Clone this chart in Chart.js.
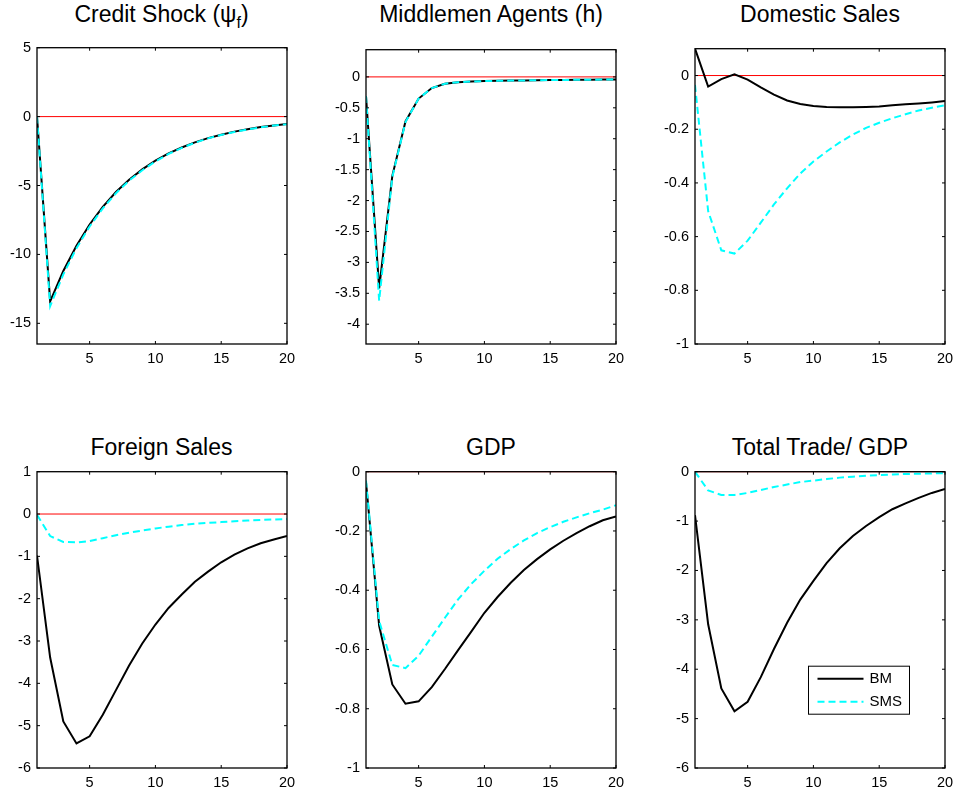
<!DOCTYPE html>
<html>
<head>
<meta charset="utf-8">
<script src="https://cdn.jsdelivr.net/npm/chart.js@4.4.1/dist/chart.umd.min.js"></script>
<style>
body { margin: 0; background: #fff; width: 956px; height: 791px; position: relative; overflow: hidden; font-family: "Liberation Sans", Arial, sans-serif; }
canvas { position: absolute; }
.ttl { position: absolute; font-size: 23px; line-height: 23px; text-align: center; white-space: nowrap; color: #000; }
.ttl sub { font-size: 16px; vertical-align: -6px; line-height: 0; }
</style>
</head>
<body>
<script>
// periods on the x axis
var periods = [1, 2, 3, 4, 5, 6, 7, 8, 9, 10, 11, 12, 13, 14, 15, 16, 17, 18, 19, 20];
var xTicks = [5, 10, 15, 20];
var seriesNames = ["BM", "SMS"];

// Credit Shock (psi_f)
var creditBM  = [0, -13.4, -11.2, -9.37, -7.83, -6.55, -5.47, -4.58, -3.83, -3.2, -2.67, -2.24, -1.87, -1.56, -1.31, -1.09, -0.91, -0.76, -0.64, -0.53];
var creditSMS = [0, -13.75, -11.45, -9.55, -7.97, -6.66, -5.56, -4.65, -3.89, -3.25, -2.71, -2.27, -1.9, -1.58, -1.33, -1.11, -0.93, -0.78, -0.65, -0.55];
var creditTicks = [5, 0, -5, -10, -15];

// Middlemen Agents (h)
var middleBM  = [-0.31, -3.42, -1.6, -0.72, -0.35, -0.18, -0.11, -0.085, -0.075, -0.068, -0.064, -0.06, -0.057, -0.054, -0.051, -0.049, -0.047, -0.045, -0.043, -0.041];
var middleSMS = [-0.31, -3.62, -1.62, -0.73, -0.35, -0.18, -0.11, -0.085, -0.075, -0.068, -0.064, -0.06, -0.057, -0.054, -0.051, -0.049, -0.047, -0.045, -0.043, -0.041];
var middleTicks = [0, -0.5, -1, -1.5, -2, -2.5, -3, -3.5, -4];

// Domestic Sales
var domBM  = [0.1, -0.041, -0.013, 0.005, -0.015, -0.044, -0.071, -0.093, -0.106, -0.113, -0.117, -0.118, -0.118, -0.117, -0.115, -0.111, -0.107, -0.104, -0.1, -0.095];
var domSMS = [-0.035, -0.505, -0.651, -0.663, -0.615, -0.548, -0.48, -0.42, -0.365, -0.32, -0.283, -0.249, -0.22, -0.195, -0.176, -0.159, -0.144, -0.13, -0.12, -0.111];
var domTicks = [0, -0.2, -0.4, -0.6, -0.8, -1];

// Foreign Sales
var forBM  = [-0.98, -3.39, -4.9, -5.42, -5.25, -4.74, -4.16, -3.58, -3.06, -2.61, -2.22, -1.9, -1.6, -1.36, -1.14, -0.96, -0.81, -0.69, -0.6, -0.52];
var forSMS = [-0.02, -0.52, -0.66, -0.67, -0.64, -0.57, -0.5, -0.44, -0.39, -0.34, -0.3, -0.26, -0.23, -0.21, -0.19, -0.17, -0.155, -0.14, -0.13, -0.12];
var forTicks = [1, 0, -1, -2, -3, -4, -5, -6];

// GDP
var gdpBM  = [-0.035, -0.52, -0.718, -0.783, -0.775, -0.727, -0.666, -0.602, -0.54, -0.476, -0.423, -0.375, -0.332, -0.295, -0.262, -0.233, -0.207, -0.184, -0.164, -0.151];
var gdpSMS = [-0.03, -0.504, -0.652, -0.663, -0.621, -0.557, -0.493, -0.431, -0.379, -0.334, -0.294, -0.261, -0.232, -0.207, -0.187, -0.169, -0.154, -0.14, -0.128, -0.113];
var gdpTicks = [0, -0.2, -0.4, -0.6, -0.8, -1];

// Total Trade/ GDP
var tradeBM  = [-0.88, -3.09, -4.39, -4.85, -4.66, -4.16, -3.59, -3.06, -2.59, -2.21, -1.85, -1.55, -1.3, -1.1, -0.92, -0.76, -0.64, -0.53, -0.43, -0.35];
var tradeSMS = [0, -0.38, -0.47, -0.47, -0.43, -0.37, -0.31, -0.26, -0.21, -0.18, -0.15, -0.12, -0.1, -0.08, -0.07, -0.055, -0.047, -0.04, -0.035, -0.03];
var tradeTicks = [0, -1, -2, -3, -4, -5, -6];

var FONT = '"Liberation Sans", Arial, sans-serif';
Chart.defaults.font.family = FONT;
Chart.defaults.font.size = 14.5;
Chart.defaults.color = '#000';

// panel setup: title, data, axis range, plot box on the page
var panels = [
  { title: 'Credit Shock (&psi;<sub>f</sub>)', bm: creditBM, sms: creditSMS, ticks: creditTicks, min: -16.5, max: 5,    L: 36.5, T: 45,   W: 250, H: 299, base: 22 },
  { title: 'Middlemen Agents (h)',             bm: middleBM, sms: middleSMS, ticks: middleTicks, min: -4.32, max: 0.44, L: 366,  T: 46.5, W: 250, H: 297.5, base: 22 },
  { title: 'Domestic Sales',                   bm: domBM,    sms: domSMS,    ticks: domTicks,    min: -1,    max: 0.1,  L: 695,  T: 45.5, W: 250, H: 298.5, base: 22 },
  { title: 'Foreign Sales',                    bm: forBM,    sms: forSMS,    ticks: forTicks,    min: -6,    max: 1,    L: 36.5, T: 469,  W: 250, H: 299, base: 455 },
  { title: 'GDP',                              bm: gdpBM,    sms: gdpSMS,    ticks: gdpTicks,    min: -1,    max: 0,    L: 366,  T: 469,  W: 250, H: 299, base: 455 },
  { title: 'Total Trade/ GDP',                 bm: tradeBM,  sms: tradeSMS,  ticks: tradeTicks,  min: -6,    max: 0,    L: 695,  T: 469,  W: 250, H: 299, base: 455, legend: true }
];

var PAD_L = 40, PAD_T = 12, PAD_R = 16, PAD_B = 30;

// zero line, box and inward ticks like matlab
var framePlugin = {
  id: 'frame',
  beforeDatasetsDraw: function(chart) {
    var a = chart.chartArea, ctx = chart.ctx;
    var y0 = chart.scales.y.getPixelForValue(0);
    ctx.save();
    ctx.strokeStyle = '#ff0000';
    ctx.lineWidth = 1;
    ctx.beginPath();
    ctx.moveTo(a.left, y0);
    ctx.lineTo(a.right, y0);
    ctx.stroke();
    ctx.restore();
  },
  afterDatasetsDraw: function(chart) {
    var a = chart.chartArea, ctx = chart.ctx;
    var xs = chart.scales.x, ys = chart.scales.y;
    ctx.save();
    ctx.strokeStyle = '#000';
    ctx.lineWidth = 1.3;
    ctx.strokeRect(a.left, a.top, a.right - a.left, a.bottom - a.top);
    ctx.lineWidth = 1;
    ctx.beginPath();
    xs.ticks.forEach(function(t) {
      var px = xs.getPixelForValue(t.value);
      ctx.moveTo(px, a.bottom); ctx.lineTo(px, a.bottom - 3);
      ctx.moveTo(px, a.top); ctx.lineTo(px, a.top + 3);
    });
    ys.ticks.forEach(function(t) {
      var py = ys.getPixelForValue(t.value);
      ctx.moveTo(a.left, py); ctx.lineTo(a.left + 3, py);
      ctx.moveTo(a.right, py); ctx.lineTo(a.right - 3, py);
    });
    ctx.stroke();
    ctx.restore();
  }
};

// legend box inside the last panel
var legendPlugin = {
  id: 'boxLegend',
  afterDraw: function(chart) {
    if (!chart.options.plugins.boxLegend || !chart.options.plugins.boxLegend.show) return;
    var a = chart.chartArea, ctx = chart.ctx;
    var bx = a.left + 113.5, by = a.top + 194.5, bw = 101, bh = 48;
    ctx.save();
    ctx.fillStyle = '#fff';
    ctx.fillRect(bx, by, bw, bh);
    ctx.strokeStyle = '#000';
    ctx.lineWidth = 1;
    ctx.strokeRect(bx, by, bw, bh);
    chart.data.datasets.slice().sort(function(p, q) { return q.order - p.order; }).forEach(function(ds, i) {
      var ly = by + 12.5 + i * 23;
      ctx.strokeStyle = ds.borderColor;
      ctx.lineWidth = ds.borderWidth;
      ctx.setLineDash(ds.borderDash || []);
      ctx.beginPath();
      ctx.moveTo(bx + 9, ly);
      ctx.lineTo(bx + 55, ly);
      ctx.stroke();
      ctx.setLineDash([]);
      ctx.fillStyle = '#000';
      ctx.font = '15px ' + FONT;
      ctx.textBaseline = 'middle';
      ctx.fillText(ds.label, bx + 61, ly + 0.5);
    });
    ctx.restore();
  }
};

function toPoints(vals) {
  return periods.map(function(p, i) { return { x: p, y: vals[i] }; });
}

panels.forEach(function(p, idx) {
  var t = document.createElement('div');
  t.className = 'ttl';
  t.innerHTML = p.title;
  t.style.left = p.L + 'px';
  t.style.width = p.W + 'px';
  t.style.top = (p.base - 19.5) + 'px';
  document.body.appendChild(t);

  var c = document.createElement('canvas');
  c.width = p.W + PAD_L + PAD_R;
  c.height = p.H + PAD_T + PAD_B;
  c.style.left = (p.L - PAD_L) + 'px';
  c.style.top = (p.T - PAD_T) + 'px';
  document.body.appendChild(c);

  var yTicks = p.ticks;
  new Chart(c.getContext('2d'), {
    type: 'line',
    data: {
      datasets: [{
        label: seriesNames[0],
        data: toPoints(p.bm),
        borderColor: '#000000',
        borderWidth: 2,
        pointRadius: 0,
        tension: 0,
        fill: false,
        order: 1
      }, {
        label: seriesNames[1],
        data: toPoints(p.sms),
        borderColor: '#00ffff',
        borderWidth: 2,
        borderDash: [7, 4],
        pointRadius: 0,
        tension: 0,
        fill: false,
        order: 0
      }]
    },
    options: {
      responsive: false,
      animation: false,
      events: [],
      layout: { padding: { top: PAD_T, right: PAD_R, left: 0, bottom: 0 } },
      plugins: {
        legend: { display: false },
        tooltip: { enabled: false },
        title: { display: false },
        boxLegend: { show: !!p.legend }
      },
      scales: {
        x: {
          type: 'linear',
          min: 1,
          max: 20,
          afterBuildTicks: function(s) { s.ticks = xTicks.map(function(v) { return { value: v }; }); },
          afterFit: function(s) { s.height = PAD_B; },
          grid: { display: false, drawTicks: false },
          border: { display: false },
          ticks: { color: '#000', padding: 6, maxRotation: 0, autoSkip: false, font: { size: 14.5, family: FONT },
                   callback: function(v) { return String(v); } }
        },
        y: {
          type: 'linear',
          min: p.min,
          max: p.max,
          afterBuildTicks: function(s) { s.ticks = yTicks.map(function(v) { return { value: v }; }); },
          afterFit: function(s) { s.width = PAD_L; },
          grid: { display: false, drawTicks: false },
          border: { display: false },
          ticks: { color: '#000', padding: 6, autoSkip: false, font: { size: 14.5, family: FONT },
                   callback: function(v) { return String(v); } }
        }
      }
    },
    plugins: [framePlugin, legendPlugin]
  });
});
</script>
</body>
</html>
